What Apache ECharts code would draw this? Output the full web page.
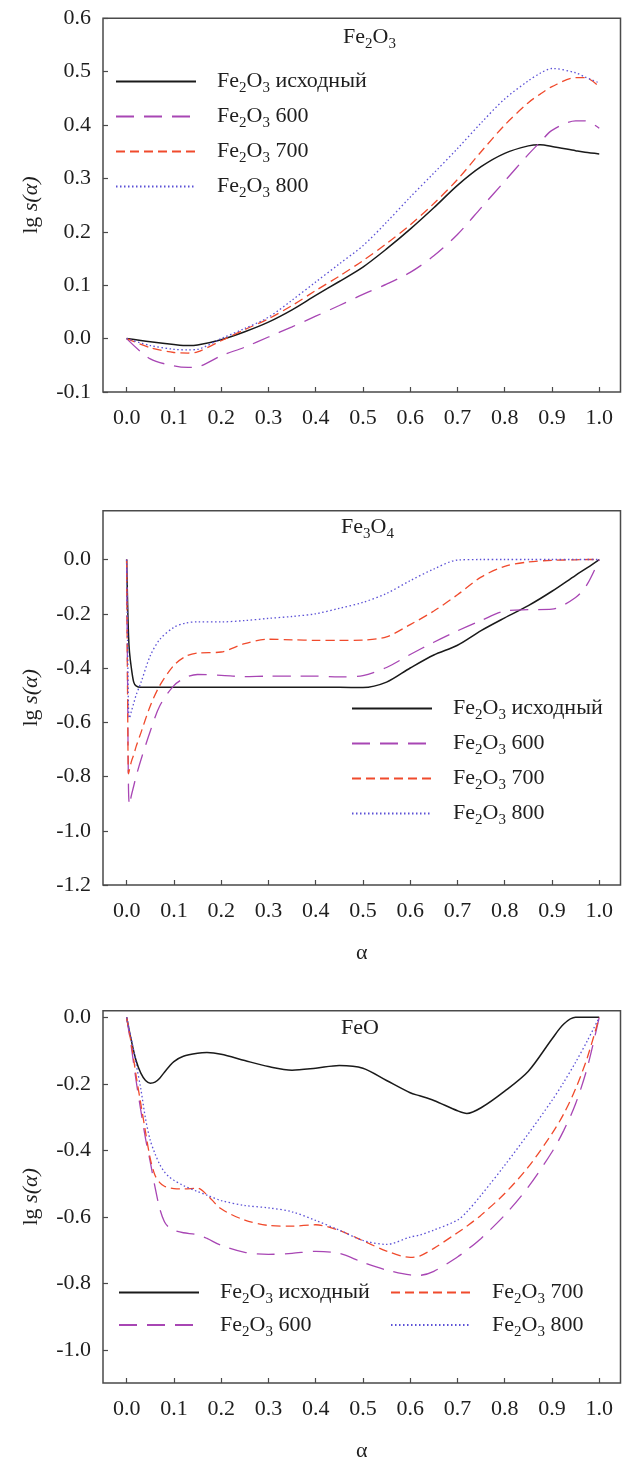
<!DOCTYPE html>
<html>
<head>
<meta charset="utf-8">
<script src="https://cdn.jsdelivr.net/npm/echarts@6/dist/echarts.min.js"></script>
<style>
  html, body { margin: 0; padding: 0; background: #ffffff; }
  #chart { width: 622px; height: 1463px; }
</style>
</head>
<body>
<div id="chart"></div>
<script>
// ---- series names and panel titles ----
const seriesNames = ['Fe2O3 исходный', 'Fe2O3 600', 'Fe2O3 700', 'Fe2O3 800'];
const panelTitles = ['Fe2O3', 'Fe3O4', 'FeO'];

// ---- tick values ----
const xTicks = [0, 0.1, 0.2, 0.3, 0.4, 0.5, 0.6, 0.7, 0.8, 0.9, 1.0];
const yTicks1 = [-0.1, 0, 0.1, 0.2, 0.3, 0.4, 0.5, 0.6];
const yTicks2 = [-1.2, -1.0, -0.8, -0.6, -0.4, -0.2, 0];
const yTicks3 = [-1.0, -0.8, -0.6, -0.4, -0.2, 0];

// ---- panel 1: Fe2O3 ----
const alpha1 = [0, 0.05, 0.1, 0.13, 0.15, 0.2, 0.25, 0.3, 0.35, 0.4, 0.45, 0.5, 0.55, 0.6, 0.65, 0.7, 0.75, 0.8, 0.85, 0.875, 0.9, 0.95, 0.97, 1.0];
const p1Init = [0, -0.006, -0.011, -0.013, -0.012, -0.002, 0.013, 0.031, 0.054, 0.081, 0.107, 0.134, 0.168, 0.205, 0.245, 0.287, 0.322, 0.347, 0.361, 0.363, 0.36, 0.352, 0.349, 0.346];
const p1T600 = [0, -0.038, -0.051, -0.054, -0.053, -0.032, -0.016, 0.003, 0.022, 0.042, 0.062, 0.083, 0.102, 0.124, 0.155, 0.195, 0.245, 0.295, 0.345, 0.368, 0.39, 0.408, 0.408, 0.394];
const p1T700 = [0, -0.017, -0.026, -0.027, -0.025, -0.004, 0.017, 0.037, 0.062, 0.09, 0.117, 0.146, 0.178, 0.213, 0.253, 0.298, 0.35, 0.4, 0.442, 0.458, 0.472, 0.489, 0.489, 0.472];
const p1T800 = [0, -0.013, -0.02, -0.021, -0.02, 0.0, 0.019, 0.04, 0.072, 0.106, 0.14, 0.174, 0.218, 0.265, 0.31, 0.356, 0.404, 0.449, 0.483, 0.497, 0.506, 0.498, 0.49, 0.479];

// ---- panel 2: Fe3O4 ----
const alpha2 = [0, 0.002, 0.004, 0.006, 0.01, 0.015, 0.02, 0.03, 0.05, 0.07, 0.1, 0.125, 0.15, 0.2, 0.25, 0.3, 0.35, 0.4, 0.45, 0.5, 0.55, 0.6, 0.65, 0.7, 0.75, 0.8, 0.85, 0.9, 0.95, 0.975, 1.0];
const p2Init = [0, -0.156, -0.28, -0.34, -0.40, -0.452, -0.466, -0.471, -0.471, -0.471, -0.471, -0.471, -0.471, -0.471, -0.471, -0.471, -0.471, -0.471, -0.471, -0.472, -0.452, -0.4, -0.352, -0.316, -0.262, -0.215, -0.17, -0.117, -0.058, -0.03, 0];
const p2T600 = [0, -0.45, -0.85, -0.905, -0.87, -0.835, -0.8, -0.74, -0.633, -0.54, -0.465, -0.435, -0.424, -0.427, -0.432, -0.43, -0.43, -0.43, -0.433, -0.428, -0.398, -0.35, -0.305, -0.263, -0.225, -0.19, -0.185, -0.183, -0.14, -0.09, 0];
const p2T700 = [0, -0.5, -0.79, -0.775, -0.745, -0.72, -0.69, -0.64, -0.54, -0.465, -0.39, -0.357, -0.345, -0.341, -0.31, -0.294, -0.296, -0.298, -0.298, -0.297, -0.285, -0.24, -0.19, -0.13, -0.065, -0.025, -0.009, -0.003, -0.001, 0, 0];
const p2T800 = [0, -0.3, -0.55, -0.585, -0.56, -0.53, -0.5, -0.455, -0.355, -0.295, -0.25, -0.234, -0.23, -0.23, -0.225, -0.217, -0.21, -0.2, -0.18, -0.158, -0.125, -0.078, -0.035, -0.002, 0, 0, 0, 0, 0, 0, 0];

// ---- panel 3: FeO ----
const alpha3 = [0, 0.01, 0.02, 0.03, 0.04, 0.05, 0.06, 0.07, 0.08, 0.09, 0.1, 0.12, 0.15, 0.17, 0.2, 0.25, 0.3, 0.35, 0.4, 0.45, 0.5, 0.55, 0.6, 0.62, 0.65, 0.7, 0.72, 0.75, 0.8, 0.85, 0.9, 0.925, 0.95, 0.975, 1.0];
const p3Init = [0, -0.07, -0.13, -0.168, -0.19, -0.198, -0.195, -0.183, -0.165, -0.148, -0.133, -0.117, -0.108, -0.106, -0.111, -0.13, -0.148, -0.159, -0.153, -0.145, -0.153, -0.19, -0.227, -0.236, -0.25, -0.281, -0.289, -0.272, -0.222, -0.162, -0.065, -0.02, 0, 0, 0];
const p3T600 = [0, -0.09, -0.19, -0.28, -0.365, -0.435, -0.51, -0.575, -0.615, -0.633, -0.641, -0.648, -0.654, -0.665, -0.686, -0.707, -0.713, -0.71, -0.704, -0.71, -0.737, -0.76, -0.775, -0.776, -0.764, -0.721, -0.7, -0.665, -0.595, -0.51, -0.405, -0.34, -0.26, -0.15, 0];
const p3T700 = [0, -0.08, -0.175, -0.26, -0.345, -0.425, -0.475, -0.497, -0.508, -0.513, -0.515, -0.516, -0.514, -0.534, -0.576, -0.61, -0.626, -0.628, -0.624, -0.641, -0.672, -0.703, -0.722, -0.718, -0.695, -0.648, -0.628, -0.595, -0.53, -0.45, -0.35, -0.29, -0.215, -0.12, 0];
const p3T800 = [0, -0.065, -0.14, -0.215, -0.305, -0.37, -0.41, -0.442, -0.465, -0.48, -0.49, -0.506, -0.524, -0.535, -0.551, -0.566, -0.573, -0.585, -0.611, -0.64, -0.671, -0.683, -0.661, -0.655, -0.64, -0.61, -0.585, -0.535, -0.445, -0.35, -0.25, -0.195, -0.135, -0.07, 0];

// ---- styling ----
const SERIF = '"Liberation Serif", "Times New Roman", serif';
const INK = '#1e1e1e';
const FRAME = '#4a4a4a';
const lineStyles = [
  { color: '#1a1a1a', width: 1.5, type: 'solid' },
  { color: '#a846b4', width: 1.3, type: [18, 10] },
  { color: '#f04a2c', width: 1.3, type: [9, 5] },
  { color: '#5b50d6', width: 1.3, type: [1.5, 2.5] }
];

// chemical formula with subscript digits, as rich text
function formula(str) {
  let out = '';
  let buf = '';
  for (let i = 0; i < str.length; i++) {
    const c = str[i];
    const isSub = /\d/.test(c) && i > 0 && /[A-Za-z]/.test(str[i - 1]);
    if (isSub) {
      if (buf) { out += '{n|' + buf + '}'; buf = ''; }
      out += '{s|' + c + '}';
    } else {
      buf += c;
    }
  }
  if (buf) out += '{n|' + buf + '}';
  return out;
}
const formulaRich = {
  n: { fontFamily: SERIF, fontSize: 22, fontWeight: 'normal', color: INK, lineHeight: 28 },
  s: { fontFamily: SERIF, fontSize: 15, fontWeight: 'normal', color: INK, lineHeight: 14, padding: [14, 0, 0, 0] }
};

const grids = [
  { left: 103, top: 18.3, width: 517.5, height: 373.7 },
  { left: 103, top: 510.7, width: 517.5, height: 374.3 },
  { left: 103, top: 1010.7, width: 517.5, height: 374.3 }
].map(g => Object.assign({ show: true, borderColor: FRAME, borderWidth: 1.5, backgroundColor: 'transparent' }, g));

const yRanges = [[-0.1, 0.6], [-1.2, 0.18], [-1.1, 0.02]];
const yTickSets = [yTicks1, yTicks2, yTicks3];

const xAxes = [0, 1, 2].map(i => ({
  type: 'value', gridIndex: i, min: -0.05, max: 1.045,
  name: i === 0 ? '' : 'α',
  nameLocation: 'middle', nameGap: 57,
  nameTextStyle: { fontFamily: SERIF, fontSize: 22, color: INK },
  axisLine: { show: false, onZero: false },
  splitLine: { show: false },
  axisTick: { inside: true, length: 5, lineStyle: { color: FRAME, width: 1.2 }, customValues: xTicks },
  axisLabel: { customValues: xTicks, formatter: v => v.toFixed(1), margin: 15, fontFamily: SERIF, fontSize: 22, color: INK }
}));

const yAxes = [0, 1, 2].map(i => ({
  type: 'value', gridIndex: i, min: yRanges[i][0], max: yRanges[i][1],
  name: '{r|lg }{i|s(α)}',
  nameLocation: 'middle', nameGap: 61, nameRotate: 90,
  nameTextStyle: {
    rich: {
      r: { fontFamily: SERIF, fontSize: 22, color: INK },
      i: { fontFamily: SERIF, fontSize: 22, color: INK, fontStyle: 'italic' }
    }
  },
  axisLine: { show: false, onZero: false },
  splitLine: { show: false },
  axisTick: { inside: true, length: 5, lineStyle: { color: FRAME, width: 1.2 }, customValues: yTickSets[i] },
  axisLabel: { customValues: yTickSets[i], formatter: v => v.toFixed(1), margin: 12, fontFamily: SERIF, fontSize: 22, color: INK }
}));

const panelData = [
  [alpha1, [p1Init, p1T600, p1T700, p1T800]],
  [alpha2, [p2Init, p2T600, p2T700, p2T800]],
  [alpha3, [p3Init, p3T600, p3T700, p3T800]]
];

const series = [];
panelData.forEach(([alpha, sets], p) => {
  sets.forEach((vals, k) => {
    series.push({
      type: 'line', name: seriesNames[k],
      xAxisIndex: p, yAxisIndex: p,
      data: alpha.map((a, j) => [a, vals[j]]),
      symbol: 'none', showSymbol: false,
      smooth: 0.3,
      lineStyle: lineStyles[k],
      itemStyle: { color: lineStyles[k].color },
      emphasis: { disabled: true },
      silent: true
    });
  });
});

// legend icon shows only the line sample, no marker
function legendAt(names, left, top, gap) {
  return {
    data: names, orient: 'vertical', left: left, top: top,
    itemWidth: 80, itemHeight: 14, itemGap: gap, padding: 0,
    selectedMode: false,
    itemStyle: { opacity: 0 },
    formatter: name => formula(name),
    textStyle: { padding: [0, 0, 0, 16], rich: formulaRich }
  };
}

const titles = [
  { left: 343, top: 23 },
  { left: 341, top: 513 },
  { left: 341, top: 1014 }
].map((pos, i) => ({
  text: formula(panelTitles[i]), left: pos.left, top: pos.top, padding: 0,
  textStyle: { fontWeight: 'normal', rich: formulaRich }
}));

const option = {
  animation: false,
  backgroundColor: '#ffffff',
  textStyle: { fontFamily: SERIF },
  title: titles,
  grid: grids,
  xAxis: xAxes,
  yAxis: yAxes,
  legend: [
    legendAt(seriesNames, 115, 67, 6),
    legendAt(seriesNames, 351, 694, 6),
    legendAt([seriesNames[0], seriesNames[1]], 118, 1278, 3.5),
    legendAt([seriesNames[2], seriesNames[3]], 390, 1278, 3.5)
  ],
  series: series
};

const chart = echarts.init(document.getElementById('chart'), null, { renderer: 'canvas' });
chart.setOption(option);
</script>
</body>
</html>
